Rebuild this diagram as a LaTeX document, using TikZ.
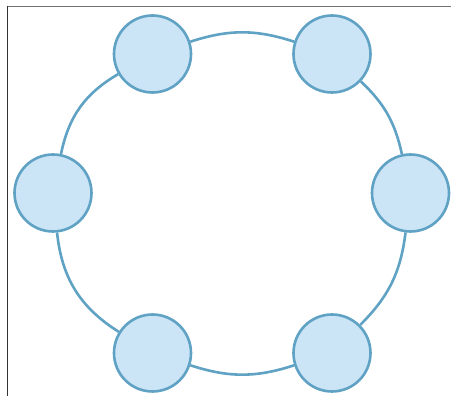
\documentclass[tikz,border=0pt]{standalone}
\definecolor{ringline}{HTML}{5FA2C4}
\definecolor{nodefill}{HTML}{CBE4F6}
\begin{document}
\begin{tikzpicture}[x=1pt,y=1pt,
  peer/.style={circle,draw=ringline,fill=nodefill,line width=2.6pt,minimum size=77pt,inner sep=0pt},
  ring/.style={draw=ringline,line width=2.6pt},
  frameline/.style={line width=1.2pt}]
\useasboundingbox (0,0) rectangle (451,396);
\fill[white] (0,0) rectangle (451,396);
\draw[frameline,draw=black!55] (7,389.5) -- (451,389.5);
\draw[frameline,draw=black!80] (7.5,390) -- (7.5,0);
\node[peer] (tl) at (152.5,342) {};
\node[peer] (tr) at (332,342) {};
\node[peer] (r) at (410.5,203) {};
\node[peer] (br) at (332,43) {};
\node[peer] (bl) at (152.5,43) {};
\node[peer] (l) at (53,203) {};
\draw[ring] (tl) to[bend left=18] (tr);
\draw[ring] (tr) to[bend left=17] (r);
\draw[ring] (r) to[bend left=19] (br);
\draw[ring] (br) to[bend left=18] (bl);
\draw[ring] (bl) to[bend left=26] (l);
\draw[ring] (l) to[bend left=24] (tl);
\end{tikzpicture}
\end{document}
